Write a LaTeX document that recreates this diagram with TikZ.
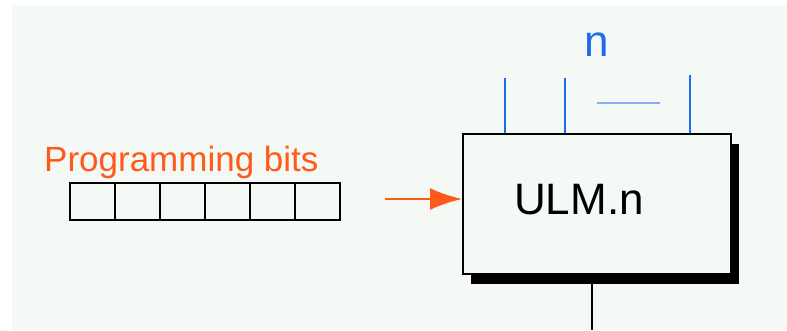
\documentclass[tikz,border=0pt]{standalone}
\usepackage{fontspec}
\setmainfont{Liberation Sans}
\usetikzlibrary{positioning,arrows.meta,shadows}
\definecolor{fundo}{HTML}{F5F9F6}
\definecolor{laranja}{HTML}{FF5A1A}
\definecolor{azul}{HTML}{1F6BF0}
\definecolor{azulclaro}{HTML}{80B0F5}

\begin{document}
\begin{tikzpicture}[x=1pt,y=-1pt,
    celula/.style={draw,line width=1.8pt,minimum width=45pt,minimum height=37pt,inner sep=0pt,outer sep=0pt},
    fio/.style={azul,line width=1.6pt}]
    \useasboundingbox (0,0) rectangle (787,330);
    % Fundo
    \fill[fundo] (12,6) rectangle (787,330);

    % Bits de programacao
    \foreach \i in {0,...,5}
        \node[celula] (b\i) at (92.5+45*\i,201.5) {};
    \node[laranja,font=\fontsize{35}{35}\selectfont,anchor=base west,inner sep=0pt] (rotulo) at (44,171) {Programming bits};

    % Bloco ULM
    \node[draw,line width=2pt,fill=fundo,minimum width=268pt,minimum height=140pt,inner sep=0pt,
        drop shadow={shadow xshift=8pt,shadow yshift=-10pt,opacity=1,fill=black}] (ulm) at (597,204) {};
    \node[font=\fontsize{44}{44}\selectfont,anchor=base,inner sep=0pt] (nome) at (579,214) {ULM.n};

    % Entradas
    \coordinate (e1) at (505,78);
    \coordinate (e2) at (565,78);
    \coordinate (e3) at (690,75);
    \foreach \e in {e1,e2,e3}
        \draw[fio] (\e) -- (\e |- ulm.north);
    \draw[azulclaro,line width=1.6pt] (597,103) -- (660,103);
    \node[azul,font=\fontsize{44}{44}\selectfont,anchor=base,inner sep=0pt] (n) at (597,56) {n};

    % Seta de programacao
    \coordinate (entrada) at (385,199);
    \draw[laranja,line width=2pt,-{Latex[length=32pt,width=22pt]}] (entrada) -- (entrada -| ulm.west);

    % Saida
    \coordinate (saida) at (592,330);
    \draw[line width=1.6pt] (ulm.south -| saida) -- (saida);
\end{tikzpicture}
\end{document}
